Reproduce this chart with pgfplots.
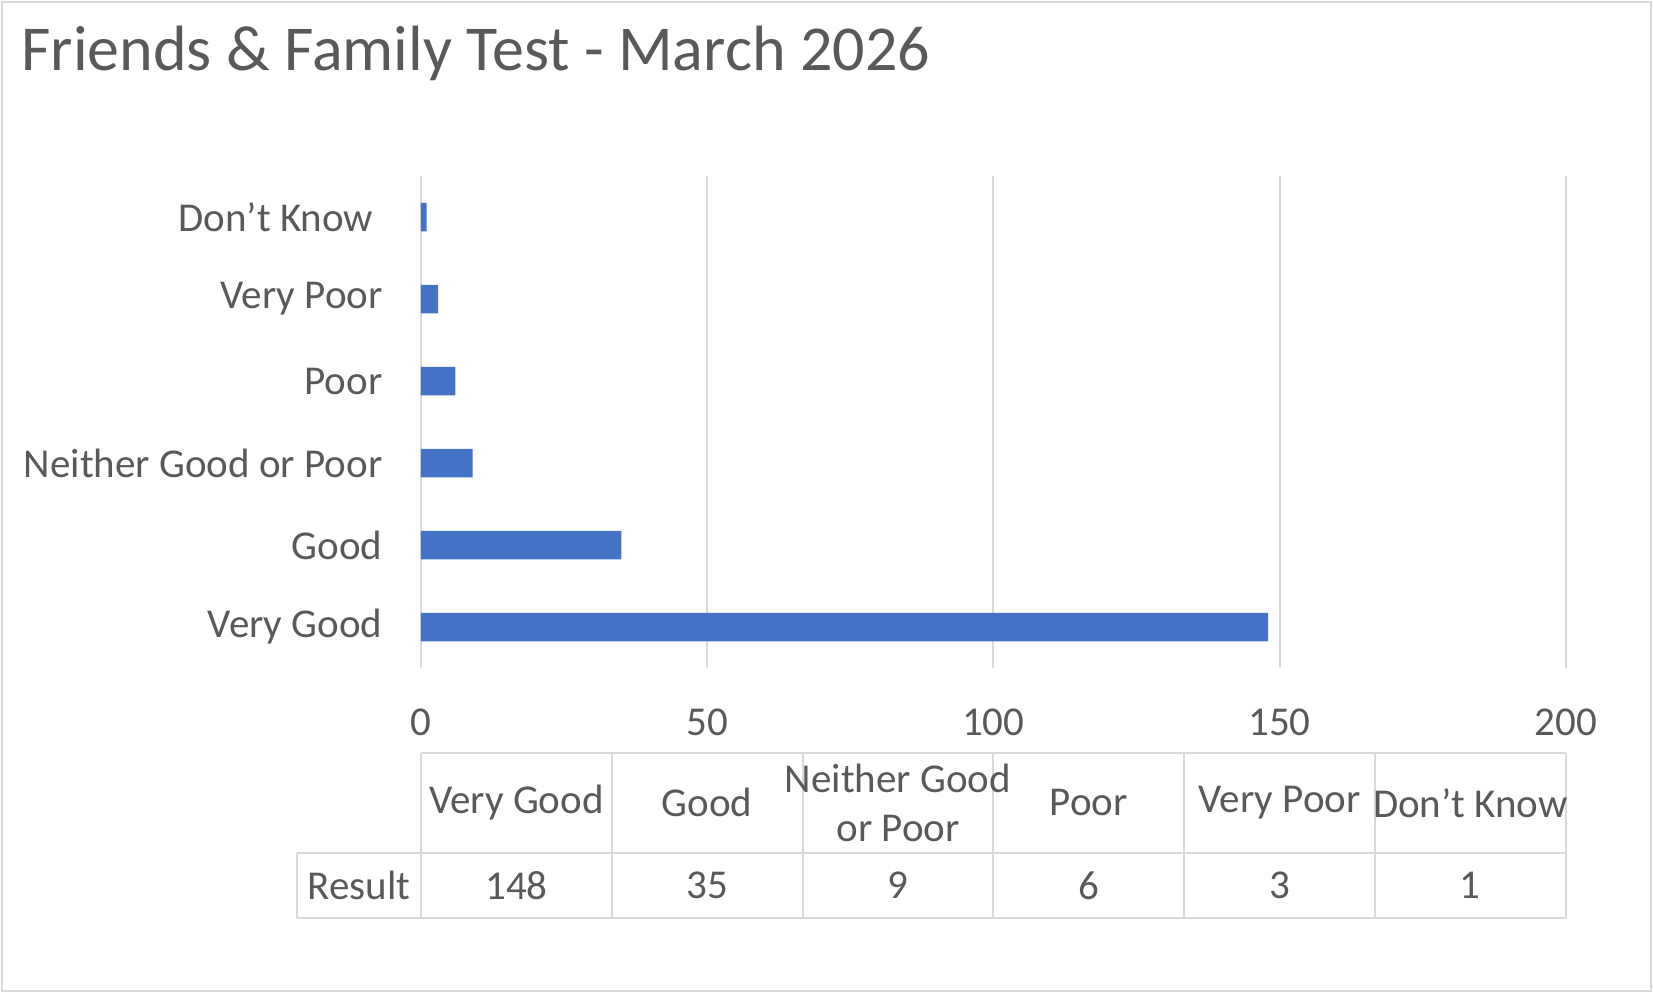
\documentclass[border=0pt]{standalone}
\usepackage{fontspec}
\setmainfont{Carlito}
\usepackage{pgfplots}
\pgfplotsset{compat=1.18}
\definecolor{barc}{HTML}{4472C4}
\definecolor{gridc}{HTML}{D9D9D9}
\definecolor{txt}{HTML}{595959}
\begin{document}
\begin{tikzpicture}
\path (0,0) rectangle (826.5pt,496.5pt);
\draw[gridc, line width=1pt] (1pt,1pt) rectangle (825.5pt,495.5pt);
\node[anchor=base west, text=txt, font=\fontsize{32}{38}\selectfont, inner sep=0pt] at (10.5pt,461pt) {Friends \& Family Test - March 2026};
\begin{axis}[
 at={(210.5pt,162.5pt)}, anchor=south west,
 scale only axis, width=572.35pt, height=246pt,
 xmin=0, xmax=200, ymin=-0.5, ymax=5.5,
 xbar, bar width=14.25pt,
 xtick={0,50,...,200},
 ytick={0,...,5},
 yticklabels={Very Good,Good,Neither Good or Poor,Poor,Very Poor,Don’t Know\hspace*{4.7pt}},
 axis line style={draw=none},
 major tick style={draw=none},
 xmajorgrids, major grid style={gridc, line width=1pt},
 tick label style={text=txt, font=\fontsize{20.5}{24.5}\selectfont},
 /pgf/number format/assume math mode=true,
 xticklabel style={anchor=center, yshift=-27pt},
 yticklabel style={anchor=east, inner sep=0pt, xshift=-14.8pt},
 clip=false,
]
\addplot[fill=barc, draw=none] coordinates {(148,0) (35,1) (9,2) (6,3) (3,4) (1,5)};
% data table
\draw[gridc, line width=1pt] (axis cs:0,-1.533) -- (axis cs:200,-1.533);
\draw[gridc, line width=1pt] (axis cs:-21.72,-2.752) -- (axis cs:200,-2.752);
\draw[gridc, line width=1pt] (axis cs:-21.72,-3.549) -- (axis cs:200,-3.549);
\draw[gridc, line width=1pt] (axis cs:-21.72,-2.752) -- (axis cs:-21.72,-3.549);
\draw[gridc, line width=1pt] (axis cs:0,-1.533) -- (axis cs:0,-3.549);
\draw[gridc, line width=1pt] (axis cs:33.333,-1.533) -- (axis cs:33.333,-3.549);
\draw[gridc, line width=1pt] (axis cs:66.667,-1.533) -- (axis cs:66.667,-3.549);
\draw[gridc, line width=1pt] (axis cs:100,-1.533) -- (axis cs:100,-3.549);
\draw[gridc, line width=1pt] (axis cs:133.333,-1.533) -- (axis cs:133.333,-3.549);
\draw[gridc, line width=1pt] (axis cs:166.667,-1.533) -- (axis cs:166.667,-3.549);
\draw[gridc, line width=1pt] (axis cs:200,-1.533) -- (axis cs:200,-3.549);
\begin{scope}[every node/.style={text=txt, font=\fontsize{20.5}{24.5}\selectfont, inner sep=0pt, align=center}]
\node at (axis cs:16.667,-2.143) {Very Good};
\node at (axis cs:50,-2.143) {Good};
\node at (axis cs:83.333,-2.143) {Neither Good\\or Poor};
\node at (axis cs:116.667,-2.143) {Poor};
\node at (axis cs:150,-2.143) {Very Poor};
\node at (axis cs:183.333,-2.143) {Don’t Know};
\node at (axis cs:-10.86,-3.15) {Result};
\node at (axis cs:16.667,-3.15) {148};
\node at (axis cs:50,-3.15) {35};
\node at (axis cs:83.333,-3.15) {9};
\node at (axis cs:116.667,-3.15) {6};
\node at (axis cs:150,-3.15) {3};
\node at (axis cs:183.333,-3.15) {1};
\end{scope}
\end{axis}
\end{tikzpicture}
\end{document}
